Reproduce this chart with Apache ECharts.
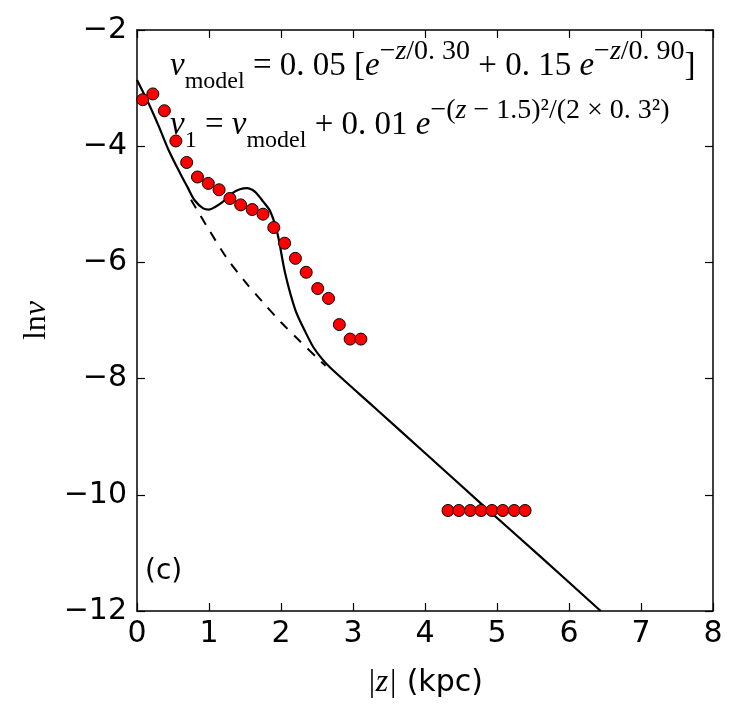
<!DOCTYPE html>
<html><head><meta charset="utf-8">
<script src="https://cdn.jsdelivr.net/npm/echarts@6/dist/echarts.min.js"></script>
<style>html,body{margin:0;padding:0;background:#fff}#c{width:744px;height:715px}</style>
</head><body><div id="c"></div>
<script>
// data
const dotZ = [0.08,0.22,0.38,0.54,0.69,0.84,0.99,1.14,1.29,1.44,1.60,1.75,1.90,2.05,2.20,2.35,2.51,2.66,2.81,2.96,3.11];
const dotY = [-3.20,-3.10,-3.39,-3.91,-4.28,-4.53,-4.64,-4.75,-4.90,-5.01,-5.09,-5.17,-5.40,-5.67,-5.93,-6.17,-6.45,-6.62,-7.07,-7.32,-7.32];
const farZ = [4.32,4.47,4.63,4.78,4.93,5.08,5.24,5.39];
const farY = [-10.27,-10.27,-10.27,-10.27,-10.27,-10.27,-10.27,-10.27];
const solidZ = [0,0.16,0.30,0.44,0.60,0.70,0.80,0.92,1.00,1.08,1.20,1.32,1.43,1.53,1.60,1.66,1.75,1.85,1.95,2.06,2.20,2.34,2.45,2.57,2.70,3.31,4.00,4.84,5.60,6.44];
const solidY = [-2.86,-3.26,-3.65,-4.07,-4.47,-4.70,-4.93,-5.07,-5.09,-5.05,-4.95,-4.81,-4.74,-4.72,-4.75,-4.81,-4.95,-5.12,-5.50,-6.20,-6.82,-7.20,-7.46,-7.66,-7.83,-8.51,-9.28,-10.22,-11.06,-12.0];
const dashZ = [0.75,1.00,1.25,1.50,1.75,2.00,2.25,2.50,2.62];
const dashY = [-4.92,-5.44,-5.93,-6.33,-6.69,-7.03,-7.34,-7.64,-7.78];
const xTicks = {min:0, max:8, interval:1};
const yTicks = {min:-12, max:-2, interval:2};

const pairs = (a,b)=>a.map((v,i)=>[v,b[i]]);
const minus = v => String(v).replace('-', '\u2212');
const chart = echarts.init(document.getElementById('c'));
const serif = 'Liberation Serif';
const mathRich = {
  m: {fontFamily: serif, fontSize: 33, lineHeight: 56, color:'#000'},
  i: {fontFamily: serif, fontSize: 33, fontStyle:'italic', lineHeight: 56, color:'#000'},
  sb: {fontFamily: serif, fontSize: 24, lineHeight: 56, verticalAlign:'bottom', color:'#000'},
  sp: {fontFamily: serif, fontSize: 28, lineHeight: 26, verticalAlign:'top', color:'#000'},
  spi: {fontFamily: serif, fontSize: 28, fontStyle:'italic', lineHeight: 26, verticalAlign:'top', color:'#000'}
};
chart.setOption({
  animation:false,
  backgroundColor:'#fff',
  grid:{left:137, right:31, top:30, bottom:104},
  xAxis:[
    {type:'value', min:xTicks.min, max:xTicks.max, interval:xTicks.interval,
     axisLine:{onZero:false, lineStyle:{color:'#000', width:1.5}}, splitLine:{show:false},
     axisTick:{inside:true, length:8, lineStyle:{color:'#000', width:1.2}},
     axisLabel:{color:'#000', fontFamily:'DejaVu Sans', fontSize:30, margin:8, formatter:minus},
     name:'{i||z|}{s| (kpc)}', nameLocation:'middle', nameGap:56,
     nameTextStyle:{rich:{i:{fontFamily:serif, fontStyle:'italic', fontSize:32, color:'#000'}, s:{fontFamily:'DejaVu Sans', fontSize:30, color:'#000'}}}},
    {type:'value', position:'top', min:xTicks.min, max:xTicks.max, interval:xTicks.interval,
     axisLine:{onZero:false, lineStyle:{color:'#000', width:1.5}}, splitLine:{show:false},
     axisTick:{inside:true, length:8, lineStyle:{color:'#000', width:1.2}}, axisLabel:{show:false}}
  ],
  yAxis:[
    {type:'value', min:yTicks.min, max:yTicks.max, interval:yTicks.interval,
     axisLine:{onZero:false, show:true, lineStyle:{color:'#000', width:1.5}}, splitLine:{show:false},
     axisTick:{show:true, inside:true, length:8, lineStyle:{color:'#000', width:1.2}},
     axisLabel:{color:'#000', fontFamily:'DejaVu Sans', fontSize:30, margin:10, formatter:minus},
     name:'{m|ln}{i|ν}', nameLocation:'middle', nameGap:84, nameRotate:90,
     nameTextStyle:{rich:{m:{fontFamily:serif, fontSize:32, color:'#000'}, i:{fontFamily:serif, fontStyle:'italic', fontSize:32, color:'#000'}}}},
    {type:'value', position:'right', min:yTicks.min, max:yTicks.max, interval:yTicks.interval,
     axisLine:{onZero:false, show:true, lineStyle:{color:'#000', width:1.5}}, splitLine:{show:false},
     axisTick:{show:true, inside:true, length:8, lineStyle:{color:'#000', width:1.2}}, axisLabel:{show:false}}
  ],
  series:[
    {type:'line', data:pairs(dashZ,dashY), showSymbol:false, smooth:0.3, z:2,
     lineStyle:{color:'#000', width:2, type:[10,9]}},
    {type:'line', data:pairs(solidZ,solidY), showSymbol:false, smooth:0.3, z:3,
     lineStyle:{color:'#000', width:2.2}},
    {type:'scatter', data:pairs(dotZ,dotY), symbolSize:12, z:5,
     itemStyle:{color:'#ff0000', borderColor:'#000', borderWidth:1, opacity:1}},
    {type:'scatter', data:pairs(farZ,farY), symbolSize:12, z:5,
     itemStyle:{color:'#ff0000', borderColor:'#000', borderWidth:1, opacity:1}}
  ],
  graphic:[
    {type:'text', left:170, top:38, z:10, style:{
      text:'{i|ν}{sb|model}{m| = 0. 05 [}{i|e}{sp|−}{spi|z}{sp|/0. 30}{m| + 0. 15 }{i|e}{sp|−}{spi|z}{sp|/0. 90}{m|]}',
      rich:mathRich}},
    {type:'text', left:170, top:97, z:10, style:{
      text:'{i|ν}{sb|1}{m| = }{i|ν}{sb|model}{m| + 0. 01 }{i|e}{sp|−(}{spi|z}{sp| − 1.5)²/(2 × 0. 3²)}',
      rich:mathRich}},
    {type:'text', left:145, top:558, z:10, style:{text:'(c)', fontFamily:'DejaVu Sans', fontSize:28, fill:'#000'}}
  ]
});
</script></body></html>
